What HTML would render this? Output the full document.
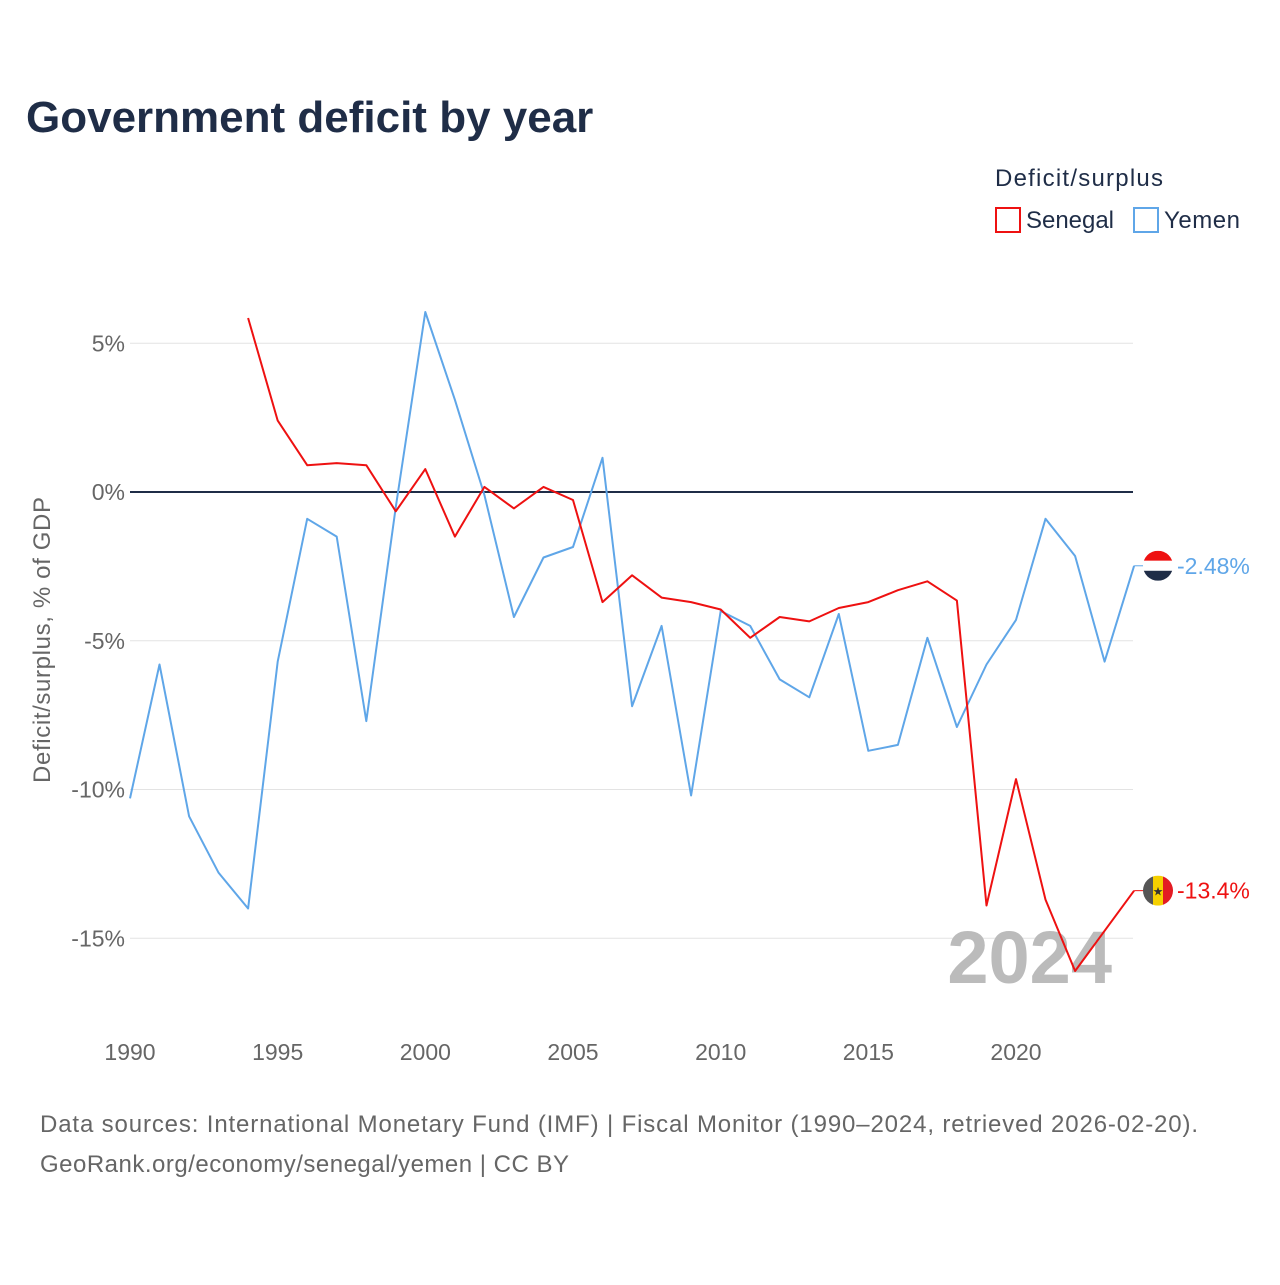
<!DOCTYPE html>
<html><head><meta charset="utf-8">
<style>
body{margin:0;background:#fff;font-family:"Liberation Sans",sans-serif;}
svg text{font-family:"Liberation Sans",sans-serif;}
</style></head>
<body>
<svg width="1280" height="1280" viewBox="0 0 1280 1280">
<text x="26" y="132" font-size="44" font-weight="bold" fill="#1f2d47">Government deficit by year</text>
<text x="995" y="186" font-size="24" fill="#1f2d47" textLength="168">Deficit/surplus</text>
<g><rect x="996" y="208" width="24" height="24" fill="none" stroke="#ee1111" stroke-width="2"/><text x="1026" y="228" font-size="24" fill="#1f2d47" textLength="88">Senegal</text></g>
<g><rect x="1134" y="208" width="24" height="24" fill="none" stroke="#5fa6e8" stroke-width="2"/><text x="1164" y="228" font-size="24" fill="#1f2d47" textLength="76">Yemen</text></g>
<g id="grid"></g>
<text x="1112" y="983" font-size="74" font-weight="bold" fill="#bbb" text-anchor="end">2024</text>
<g id="plot"></g>
<text transform="translate(50,640) rotate(-90)" font-size="24" fill="#666" text-anchor="middle" textLength="286">Deficit/surplus, % of GDP</text>
<text x="40" y="1132" font-size="24" fill="#666" textLength="1158">Data sources: International Monetary Fund (IMF) | Fiscal Monitor (1990–2024, retrieved 2026-02-20).</text>
<text x="40" y="1172" font-size="24" fill="#666" textLength="529">GeoRank.org/economy/senegal/yemen | CC BY</text>
</svg>
<script>
const years=[1990,1991,1992,1993,1994,1995,1996,1997,1998,1999,2000,2001,2002,2003,2004,2005,2006,2007,2008,2009,2010,2011,2012,2013,2014,2015,2016,2017,2018,2019,2020,2021,2022,2023,2024];
const yemen=[-10.3,-5.8,-10.9,-12.8,-14.0,-5.7,-0.9,-1.5,-7.7,-0.5,6.05,3.1,-0.1,-4.2,-2.2,-1.85,1.15,-7.2,-4.5,-10.2,-4.0,-4.5,-6.3,-6.9,-4.1,-8.7,-8.5,-4.9,-7.9,-5.8,-4.3,-0.9,-2.15,-5.7,-2.48];
const senegal=[null,null,null,null,5.85,2.4,0.9,0.97,0.9,-0.65,0.77,-1.5,0.17,-0.55,0.17,-0.27,-3.7,-2.8,-3.55,-3.7,-3.95,-4.9,-4.2,-4.35,-3.9,-3.7,-3.3,-3.0,-3.65,-13.9,-9.65,-13.7,-16.1,-14.75,-13.4];
const yTicks=[5,0,-5,-10,-15];
const yTickLabels=["5%","0%","-5%","-10%","-15%"];
const xTicks=[1990,1995,2000,2005,2010,2015,2020];
const NS="http://www.w3.org/2000/svg";
const X=y=>130+(y-1990)*886/30;
const Y=v=>492-v*29.75;
const grid=document.getElementById('grid'),plot=document.getElementById('plot');
function mk(tag,attrs,parent){const e=document.createElementNS(NS,tag);for(const k in attrs)e.setAttribute(k,attrs[k]);parent.appendChild(e);return e;}
yTicks.forEach((t,i)=>{
 const l=mk('line',{x1:130,x2:1133,y1:Y(t),y2:Y(t),stroke:t===0?'#1f2d47':'#e3e3e3','stroke-width':t===0?2:1},grid);
 
 
 const tx=mk('text',{x:125,y:Y(t)+8,'font-size':23,fill:'#666','text-anchor':'end'},grid);
 tx.textContent=yTickLabels[i];
 
 
});
xTicks.forEach(t=>{
 const tx=mk('text',{x:X(t),y:1060,'font-size':23,fill:'#666','text-anchor':'middle'},grid);
 tx.textContent=t;
 
 
});
function line(vals,color,name){
 const pts=[];vals.forEach((v,i)=>{if(v!==null)pts.push(X(years[i]).toFixed(1)+','+Y(v).toFixed(1));});
 const p=mk('polyline',{points:pts.join(' '),fill:'none',stroke:color,'stroke-width':2,'stroke-linejoin':'round'},plot);
 
 
 const last=vals[vals.length-1],ly=Y(last);
 mk('line',{x1:X(2024),x2:1148,y1:ly,y2:ly,stroke:color,'stroke-width':1},plot);
 const tx=mk('text',{x:1177,y:ly+8,'font-size':23,fill:color},plot);
 tx.textContent=(last>-10?last.toFixed(2):last.toFixed(1))+'%';
 
 
 return ly;
}
const yl=line(yemen,'#5fa6e8','yemen-line');
const sl=line(senegal,'#ee1111','senegal-line');
const fy=mk('g',{},plot);


const cy=mk('clipPath',{id:'cy'},fy);mk('circle',{cx:1158,cy:yl,r:15},cy);
mk('rect',{x:1143,y:yl-15,width:30,height:10,fill:'#ee1111','clip-path':'url(#cy)'},fy);
mk('rect',{x:1143,y:yl-5,width:30,height:10,fill:'#fff','clip-path':'url(#cy)'},fy);
mk('rect',{x:1143,y:yl+5,width:30,height:10,fill:'#1f2d47','clip-path':'url(#cy)'},fy);
const fs=mk('g',{},plot);


const cs=mk('clipPath',{id:'cs'},fs);mk('circle',{cx:1158,cy:sl,r:15},cs);
mk('rect',{x:1143,y:sl-15,width:10,height:30,fill:'#555','clip-path':'url(#cs)'},fs);
mk('rect',{x:1153,y:sl-15,width:10,height:30,fill:'#f5d000','clip-path':'url(#cs)'},fs);
mk('rect',{x:1163,y:sl-15,width:10,height:30,fill:'#e31b23','clip-path':'url(#cs)'},fs);
const st=mk('text',{x:1158,y:sl+5,'font-size':12,fill:'#333','text-anchor':'middle'},fs);st.textContent='★';
</script>
</body></html>
